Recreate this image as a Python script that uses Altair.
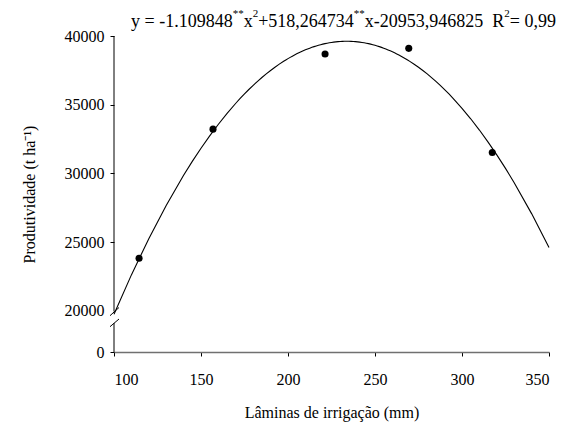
import altair as alt
import pandas as pd

# ---- data ----
laminas = [114.4, 156.9, 221.3, 269.4, 317.4]
produtividade = [23820, 33220, 38690, 39100, 31520]

x_ticks = [100, 150, 200, 250, 300, 350]
# broken y axis: the value 17000 stands for the "0" label below the break
y_ticks = [17000, 20000, 25000, 30000, 35000, 40000]
y_tick_labels = ["0", "20000", "25000", "30000", "35000", "40000"]

eq_texts = ["y = -1.109848", "**", "x", "2", "+518,264734", "**",
            "x-20953,946825  ", "R", "2", "= 0,99"]
eq_sup = [False, True, False, True, False, True, False, False, True, False]

FONT = "Liberation Serif"
W, H = 435, 316
MAIN, SUP = 18, 11

df = pd.DataFrame({"x": laminas, "y": produtividade})

label_expr = "''"
for v, l in zip(y_ticks, y_tick_labels):
    label_expr = f"datum.value == {v} ? '{l}' : ({label_expr})"

xscale = alt.Scale(domain=[100, 350], nice=False, zero=False)
yscale = alt.Scale(domain=[17000, 40000], nice=False, zero=False)

xaxis = alt.Axis(values=x_ticks, title="Lâminas de irrigação (mm)", grid=False,
                 domainColor="#707070", domainWidth=1.5, tickColor="black",
                 tickSize=4, labelPadding=15, titlePadding=17, format="d")
yaxis = alt.Axis(values=y_ticks, title="Produtividade (t ha⁻¹)", grid=False,
                 domain=False, tickColor="black", tickSize=4, labelPadding=6,
                 titlePadding=27, labelExpr=label_expr,
                 tickOpacity={"condition": {"test": "datum.value === 20000", "value": 0}, "value": 1})

points = alt.Chart(df).mark_circle(color="black", opacity=1, size=50).encode(
    x=alt.X("x:Q", scale=xscale, axis=xaxis),
    y=alt.Y("y:Q", scale=yscale, axis=yaxis),
)

curve = alt.Chart(df).transform_regression(
    "x", "y", method="poly", order=2, extent=[100, 350]
).mark_line(color="black", strokeWidth=1.1).encode(
    x=alt.X("x:Q", scale=xscale),
    y=alt.Y("y:Q", scale=yscale),
)

one = pd.DataFrame({"k": [0]})
# y axis line with break
yline_top = alt.Chart(one).mark_rule(color="black", strokeWidth=1).encode(
    x=alt.value(0), y=alt.value(0), y2=alt.value(275.5))
yline_bot = alt.Chart(one).mark_rule(color="black", strokeWidth=1).encode(
    x=alt.value(0), y=alt.value(287), y2=alt.value(H))
slash1 = alt.Chart(one).mark_rule(color="black", strokeWidth=1).encode(
    x=alt.value(-4), x2=alt.value(5), y=alt.value(279.7), y2=alt.value(271.5))
slash2 = alt.Chart(one).mark_rule(color="black", strokeWidth=1).encode(
    x=alt.value(-4), x2=alt.value(5), y=alt.value(290.7), y2=alt.value(283))

# equation text, laid out piece by piece with Times-compatible advance widths
adv = {" ": 0.25, "=": 0.564, "+": 0.564, "-": 0.333, ".": 0.25, ",": 0.25,
       "*": 0.5, "x": 0.5, "y": 0.5, "R": 0.667}
eq_layers = []
px = 131 - 114
for t, s in zip(eq_texts, eq_sup):
    fs = SUP if s else MAIN
    eq_layers.append(
        alt.Chart(one).mark_text(
            text=t, font=FONT, fontSize=fs, align="left",
            baseline="alphabetic", color="black"
        ).encode(x=alt.value(px), y=alt.value(-19 if s else -9))
    )
    px += sum(adv.get(c, 0.5) for c in t) * fs

chart = alt.layer(curve, points, yline_top, yline_bot, slash1, slash2, *eq_layers).properties(
    width=W, height=H,
    autosize=alt.AutoSizeParams(type="none"),
    padding={"left": 106, "top": 28, "right": 21, "bottom": 74},
).configure_view(stroke=None).configure_axis(
    labelFont=FONT, titleFont=FONT, labelFontSize=16, titleFontSize=16,
    labelColor="black", titleColor="black", titleFontWeight="normal",
)

chart.save("out.html", embed_options={"renderer": "svg", "actions": False})
